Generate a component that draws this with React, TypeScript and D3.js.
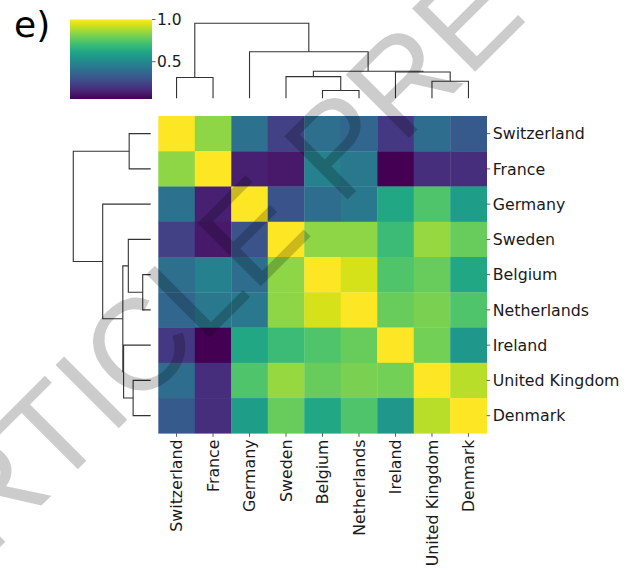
import React from 'react';
import * as d3 from 'd3';

const countries = ['Switzerland', 'France', 'Germany', 'Sweden', 'Belgium', 'Netherlands', 'Ireland', 'United Kingdom', 'Denmark'];

// correlation-like similarity matrix, rows/cols in clustered order
const rowSwitzerland = [1.0, 0.84, 0.41, 0.24, 0.40, 0.37, 0.21, 0.39, 0.32];
const rowFrance = [0.84, 1.0, 0.14, 0.12, 0.47, 0.435, 0.058, 0.18, 0.18];
const rowGermany = [0.41, 0.14, 1.0, 0.30, 0.39, 0.435, 0.62, 0.74, 0.58];
const rowSweden = [0.24, 0.12, 0.30, 1.0, 0.84, 0.84, 0.70, 0.85, 0.78];
const rowBelgium = [0.40, 0.47, 0.39, 0.84, 1.0, 0.94, 0.74, 0.78, 0.62];
const rowNetherlands = [0.37, 0.435, 0.435, 0.84, 0.94, 1.0, 0.78, 0.81, 0.74];
const rowIreland = [0.21, 0.058, 0.62, 0.70, 0.74, 0.78, 1.0, 0.80, 0.56];
const rowUK = [0.39, 0.18, 0.74, 0.85, 0.78, 0.81, 0.80, 1.0, 0.90];
const rowDenmark = [0.32, 0.18, 0.58, 0.78, 0.62, 0.74, 0.56, 0.90, 1.0];
const matrix = [rowSwitzerland, rowFrance, rowGermany, rowSweden, rowBelgium, rowNetherlands, rowIreland, rowUK, rowDenmark];

// linkage: [childA, childB, height]; new node ids start at 9
const linkage: [number, number, number][] = [
  [0, 1, 0.278],
  [4, 5, 0.103],
  [7, 8, 0.227],
  [3, 10, 0.289],
  [6, 11, 0.35],
  [12, 13, 0.36],
  [2, 14, 0.62],
  [9, 15, 1.0],
];

const cbarTicks = [0.5, 1.0];
const vmin = 0.058;
const vmax = 1.0;

const FONT = 'DejaVu Sans, Verdana, sans-serif';

function dendroPaths(pos: (i: number) => number) {
  const nodes: { p: number; h: number }[] = countries.map((_, i) => ({ p: pos(i), h: 0 }));
  const segs: { a: { p: number; h: number }; b: { p: number; h: number }; h: number }[] = [];
  linkage.forEach(([a, b, h]) => {
    const na = nodes[a];
    const nb = nodes[b];
    segs.push({ a: na, b: nb, h });
    nodes.push({ p: (na.p + nb.p) / 2, h });
  });
  return segs;
}

export default function App() {
  const x = d3.scaleBand<string>().domain(countries).range([158.3, 486.7]);
  const y = d3.scaleBand<string>().domain(countries).range([116, 433.3]);
  const color = d3.scaleSequential(d3.interpolateViridis).domain([vmin, vmax]);

  const colH = d3.scaleLinear().domain([0, 1.05]).range([98.3, 19.5]);
  const rowH = d3.scaleLinear().domain([0, 1.05]).range([150.7, 69.4]);

  const colSegs = dendroPaths((i) => (x(countries[i]) as number) + x.bandwidth() / 2);
  const rowSegs = dendroPaths((i) => (y(countries[i]) as number) + y.bandwidth() / 2);

  const cb = d3.scaleLinear().domain([vmin, vmax]).range([99, 19.5]);
  const cbX0 = 70;
  const cbX1 = 152;
  const gradStops = d3.range(0, 1.0001, 0.05);

  const textColor = '#1a1a1a';

  return (
    <svg width={635} height={570} style={{ position: 'absolute', left: 0, top: 0, background: '#fff' }}>
      <defs>
        <linearGradient id="cbgrad" x1="0" y1="1" x2="0" y2="0">
          {gradStops.map((t) => (
            <stop key={t} offset={t} stopColor={d3.interpolateViridis(t)} />
          ))}
        </linearGradient>
      </defs>
      <rect x={0} y={0} width={635} height={570} fill="#fff" />

      {/* panel label */}
      <text x={14} y={37} fontFamily={FONT} fontSize={36} fill="#000">e)</text>

      {/* colorbar */}
      <rect x={cbX0} y={cb(vmax)} width={cbX1 - cbX0} height={cb(vmin) - cb(vmax)} fill="url(#cbgrad)" />
      {cbarTicks.map((t) => (
        <g key={t}>
          <line x1={cbX1} x2={cbX1 + 3.5} y1={cb(t)} y2={cb(t)} stroke="#333" strokeWidth={0.8} />
          <text x={cbX1 + 5} y={cb(t)} dy="0.36em" fontFamily={FONT} fontSize={15.5} fill={textColor}>
            {t.toFixed(1)}
          </text>
        </g>
      ))}

      {/* heatmap */}
      {matrix.map((row, ri) =>
        row.map((v, ci) => (
          <rect
            key={`${ri}-${ci}`}
            x={x(countries[ci]) as number}
            y={y(countries[ri]) as number}
            width={x.bandwidth() + 0.3}
            height={y.bandwidth() + 0.3}
            fill={color(v)}
          />
        ))
      )}

      {/* column dendrogram */}
      {colSegs.map((s, i) => (
        <path
          key={`c${i}`}
          d={`M${s.a.p},${colH(s.a.h)}V${colH(s.h)}H${s.b.p}V${colH(s.b.h)}`}
          fill="none"
          stroke="#333"
          strokeWidth={1.1}
        />
      ))}
      {/* row dendrogram */}
      {rowSegs.map((s, i) => (
        <path
          key={`r${i}`}
          d={`M${rowH(s.a.h)},${s.a.p}H${rowH(s.h)}V${s.b.p}H${rowH(s.b.h)}`}
          fill="none"
          stroke="#333"
          strokeWidth={1.1}
        />
      ))}

      {/* right labels */}
      {countries.map((c) => {
        const cy = (y(c) as number) + y.bandwidth() / 2;
        return (
          <g key={`yl-${c}`}>
            <line x1={486.7} x2={490.2} y1={cy} y2={cy} stroke="#333" strokeWidth={0.8} />
            <text x={492.7} y={cy} dy="0.36em" fontFamily={FONT} fontSize={15.8} fill={textColor}>
              {c}
            </text>
          </g>
        );
      })}

      {/* bottom labels */}
      {countries.map((c) => {
        const cx = (x(c) as number) + x.bandwidth() / 2;
        return (
          <g key={`xl-${c}`}>
            <line x1={cx} x2={cx} y1={433.3} y2={436.8} stroke="#333" strokeWidth={0.8} />
            <text
              transform={`translate(${cx},${439.5}) rotate(-90)`}
              dy="0.36em"
              textAnchor="end"
              fontFamily={FONT}
              fontSize={15.8}
              fill={textColor}
            >
              {c}
            </text>
          </g>
        );
      })}

      {/* watermark */}
      <text
        transform="translate(-72,619) rotate(-45)"
        fontFamily="Liberation Sans, Arial, sans-serif"
        fontSize={130}
        fill="#000"
        fillOpacity={0.2}
      >
        ARTICLE PREVIEW
      </text>
    </svg>
  );
}
